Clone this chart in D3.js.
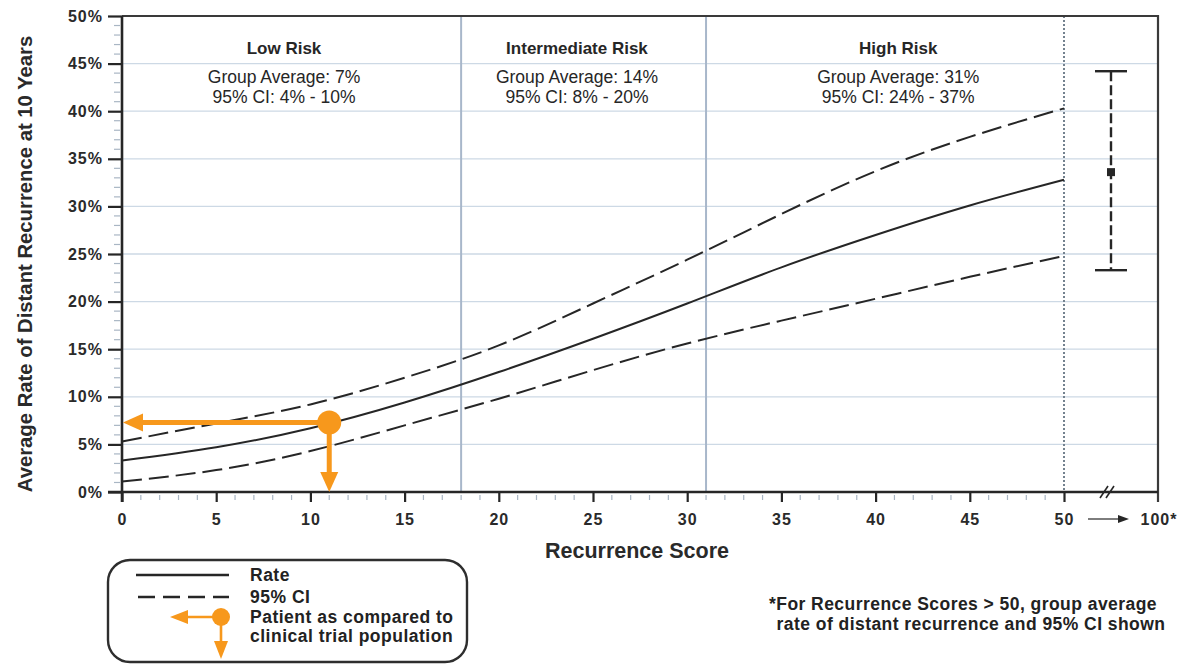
<!DOCTYPE html>
<html>
<head>
<meta charset="utf-8">
<script src="https://d3js.org/d3.v7.min.js"></script>
<style>
  body { margin: 0; background: #fff; }
  svg { font-family: "Liberation Sans", Arial, Helvetica, sans-serif; }
  .tick-label { font-weight: bold; font-size: 16px; letter-spacing: 1px; fill: #2a2a2a; }
</style>
</head>
<body>
<svg id="chart" width="1181" height="664"></svg>
<script>
// chart values
const scores = [0, 5, 10, 15, 20, 25, 30, 35, 40, 45, 50];
const rate   = [3.3, 4.7, 6.7, 9.4, 12.6, 16.1, 19.8, 23.6, 27.0, 30.1, 32.8];
const upper  = [5.3, 7.2, 9.2, 12.0, 15.4, 19.8, 24.4, 29.2, 33.7, 37.3, 40.3];
const lower  = [1.1, 2.3, 4.3, 7.0, 9.8, 12.8, 15.6, 18.0, 20.3, 22.6, 24.8];

const xTicks = [0, 5, 10, 15, 20, 25, 30, 35, 40, 45, 50];
const yTicks = [0, 5, 10, 15, 20, 25, 30, 35, 40, 45, 50];
const riskCuts = [18, 31];

const riskGroups = ["Low Risk", "Intermediate Risk", "High Risk"];
const groupCenters = [8.6, 24.15, 41.2];
const groupAvg = [7, 14, 31];
const groupCI = [[4, 10], [8, 20], [24, 37]];

const highScore = { avg: 33.6, lo: 23.3, hi: 44.2 };   // scores > 50
const patient = { score: 11, rate: 7.3 };

const orange = "#f7981c";
const ink = "#262626";

const svg = d3.select("#chart");

const x = d3.scaleLinear().domain([0, 50]).range([122, 1064]);
const xEnd = 1158;
const y = d3.scaleLinear().domain([0, 50]).range([492, 16]);

// grid
svg.append("g").selectAll("line").data(yTicks.filter(d => d > 0 && d < 50)).join("line")
  .attr("x1", x(0)).attr("x2", xEnd)
  .attr("y1", d => y(d)).attr("y2", d => y(d))
  .attr("stroke", "#cdd9e5").attr("stroke-width", 1.3);

// risk cut lines
svg.append("g").selectAll("line").data(riskCuts).join("line")
  .attr("x1", d => x(d)).attr("x2", d => x(d))
  .attr("y1", y(50)).attr("y2", y(0))
  .attr("stroke", "#a8b7ca").attr("stroke-width", 2);

// dotted line at 50
svg.append("line")
  .attr("x1", x(50)).attr("x2", x(50)).attr("y1", y(50)).attr("y2", y(0))
  .attr("stroke", "#74828f").attr("stroke-width", 2).attr("stroke-dasharray", "2,2");

// y minor ticks
svg.append("g").selectAll("line").data(d3.range(1, 50).filter(d => d % 5 !== 0)).join("line")
  .attr("x1", 114).attr("x2", 120)
  .attr("y1", d => y(d)).attr("y2", d => y(d))
  .attr("stroke", "#a9b6c4").attr("stroke-width", 1.2);

// x minor ticks
svg.append("g").selectAll("line").data(d3.range(1, 50).filter(d => d % 5 !== 0)).join("line")
  .attr("x1", d => x(d)).attr("x2", d => x(d))
  .attr("y1", 495).attr("y2", 500)
  .attr("stroke", "#a9b6c4").attr("stroke-width", 1.2);

// axes
const yAxis = d3.axisLeft(y).tickValues(yTicks).tickSize(14).tickPadding(5).tickFormat(d => d + "%");
const gy = svg.append("g").attr("transform", `translate(${x(0)},0)`).call(yAxis);
gy.select(".domain").remove();
gy.selectAll(".tick line").attr("stroke", ink).attr("stroke-width", 2.2);
gy.selectAll(".tick text").attr("class", "tick-label").attr("font-size", null).attr("font-family", null);

const xAxis = d3.axisBottom(x).tickValues(xTicks).tickSize(10).tickPadding(12);
const gx = svg.append("g").attr("transform", `translate(0,${y(0)})`).call(xAxis);
gx.select(".domain").remove();
gx.selectAll(".tick line").attr("stroke", ink).attr("stroke-width", 2.2);
gx.selectAll(".tick text").attr("class", "tick-label").attr("font-size", null).attr("font-family", null);

// frame
svg.append("path")
  .attr("d", `M${x(0)},${y(50)} H${xEnd} V${y(0) + 10}`)
  .attr("fill", "none").attr("stroke", "#3a3a3a").attr("stroke-width", 2.2);
svg.append("line").attr("x1", x(0)).attr("x2", x(0)).attr("y1", y(50)).attr("y2", y(0) + 10)
  .attr("stroke", ink).attr("stroke-width", 2.6);
svg.append("line").attr("x1", x(0) - 14).attr("x2", xEnd).attr("y1", y(0)).attr("y2", y(0))
  .attr("stroke", ink).attr("stroke-width", 2.6);

// axis break mark
const bx = 1107;
[-3, 3].forEach(o => {
  svg.append("line")
    .attr("x1", bx + o - 4).attr("x2", bx + o + 4)
    .attr("y1", y(0) + 6).attr("y2", y(0) - 6)
    .attr("stroke", ink).attr("stroke-width", 1.6);
});

// 50 -> 100*
svg.append("line").attr("x1", 1088).attr("x2", 1120).attr("y1", 519).attr("y2", 519)
  .attr("stroke", ink).attr("stroke-width", 1.2);
svg.append("path").attr("d", "M1129,519 L1118,515 L1118,523 Z").attr("fill", ink);
svg.append("text").attr("class", "tick-label").attr("x", xEnd + 1).attr("y", 525)
  .attr("text-anchor", "middle").text("100*");

// curves
const line = vals => d3.line()
  .x((d, i) => x(scores[i]))
  .y(d => y(d))
  .curve(d3.curveNatural)(vals);

svg.append("path").attr("d", line(upper)).attr("fill", "none")
  .attr("stroke", ink).attr("stroke-width", 2).attr("stroke-dasharray", "20,7");
svg.append("path").attr("d", line(lower)).attr("fill", "none")
  .attr("stroke", ink).attr("stroke-width", 2).attr("stroke-dasharray", "20,7");
svg.append("path").attr("d", line(rate)).attr("fill", "none")
  .attr("stroke", ink).attr("stroke-width", 2);

// high-score error bar
const ex = 1111;
svg.append("line").attr("x1", ex).attr("x2", ex).attr("y1", y(highScore.hi)).attr("y2", y(highScore.lo))
  .attr("stroke", ink).attr("stroke-width", 2.4).attr("stroke-dasharray", "10,4");
[highScore.hi, highScore.lo].forEach(v => {
  svg.append("line").attr("x1", ex - 16).attr("x2", ex + 16).attr("y1", y(v)).attr("y2", y(v))
    .attr("stroke", ink).attr("stroke-width", 2.4);
});
svg.append("rect").attr("x", ex - 4).attr("y", y(highScore.avg) - 4).attr("width", 8).attr("height", 8)
  .attr("fill", ink);

// risk group labels
riskGroups.forEach((g, i) => {
  const t = svg.append("text").attr("text-anchor", "middle").attr("fill", ink);
  t.append("tspan").attr("x", x(groupCenters[i])).attr("y", 54).attr("font-weight", "bold")
    .attr("font-size", 17).text(g);
  t.append("tspan").attr("x", x(groupCenters[i])).attr("y", 82.5).attr("font-size", 17.5)
    .text(`Group Average: ${groupAvg[i]}%`);
  t.append("tspan").attr("x", x(groupCenters[i])).attr("y", 102.5).attr("font-size", 17.5)
    .text(`95% CI: ${groupCI[i][0]}% - ${groupCI[i][1]}%`);
});

// patient marker
function arrow(g, x1, y1, x2, y2, w, head, hw) {
  const ang = Math.atan2(y2 - y1, x2 - x1);
  const bxp = x2 - Math.cos(ang) * head, byp = y2 - Math.sin(ang) * head;
  g.append("line").attr("x1", x1).attr("y1", y1).attr("x2", bxp).attr("y2", byp)
    .attr("stroke", orange).attr("stroke-width", w);
  const px = -Math.sin(ang) * hw, py = Math.cos(ang) * hw;
  g.append("path").attr("d", `M${x2},${y2} L${bxp + px},${byp + py} L${bxp - px},${byp - py} Z`).attr("fill", orange);
}
const pg = svg.append("g");
const px0 = x(patient.score), py0 = y(patient.rate);
arrow(pg, px0, py0, x(0) + 1, py0, 5, 20, 9);
arrow(pg, px0, py0, px0, y(0), 5, 20, 9);
pg.append("circle").attr("cx", px0).attr("cy", py0).attr("r", 12).attr("fill", orange);

// axis titles
svg.append("text").attr("transform", "translate(32,264) rotate(-90)")
  .attr("text-anchor", "middle").attr("font-weight", "bold").attr("font-size", 20.3).attr("fill", "#2a2a2a")
  .text("Average Rate of Distant Recurrence at 10 Years");
svg.append("text").attr("x", 637).attr("y", 558).attr("text-anchor", "middle")
  .attr("font-weight", "bold").attr("font-size", 21.5).attr("fill", "#2a2a2a").text("Recurrence Score");

// legend
const lg = svg.append("g");
lg.append("rect").attr("x", 108).attr("y", 560).attr("width", 359).attr("height", 102).attr("rx", 22)
  .attr("fill", "#fff").attr("stroke", "#2e2e2e").attr("stroke-width", 2.4);
lg.append("line").attr("x1", 136).attr("x2", 229).attr("y1", 575).attr("y2", 575)
  .attr("stroke", ink).attr("stroke-width", 2.4);
lg.append("line").attr("x1", 138).attr("x2", 229).attr("y1", 597).attr("y2", 597)
  .attr("stroke", ink).attr("stroke-width", 2.4).attr("stroke-dasharray", "17,8");
arrow(lg, 221, 617, 170, 617, 2.6, 18, 7);
arrow(lg, 221, 617, 221, 659, 2.6, 18, 7);
lg.append("circle").attr("cx", 221).attr("cy", 617).attr("r", 9).attr("fill", orange);
const legendText = [["Rate", 581], ["95% CI", 603], ["Patient as compared to", 623], ["clinical trial population", 642]];
legendText.forEach(d => {
  lg.append("text").attr("x", 250).attr("y", d[1]).attr("font-weight", "bold").attr("font-size", 17.5)
    .attr("letter-spacing", 0.5).attr("fill", "#222").text(d[0]);
});

// footnote
const fn = svg.append("text").attr("text-anchor", "middle").attr("font-weight", "bold")
  .attr("font-size", 17.5).attr("letter-spacing", 0.45).attr("fill", "#222");
fn.append("tspan").attr("x", 963).attr("y", 610).text("*For Recurrence Scores > 50, group average");
fn.append("tspan").attr("x", 971).attr("y", 630).text("rate of distant recurrence and 95% CI shown");
</script>
</body>
</html>
